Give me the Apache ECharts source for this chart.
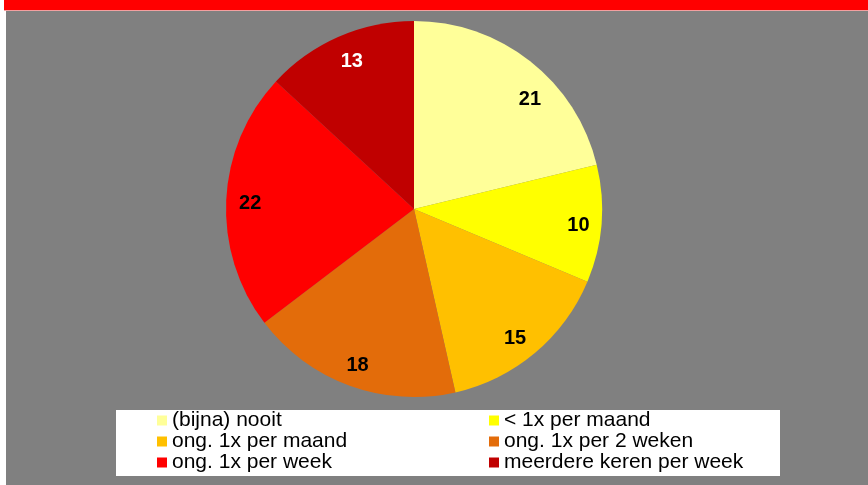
<!DOCTYPE html>
<html>
<head>
<meta charset="utf-8">
<script src="https://cdn.jsdelivr.net/npm/echarts@6/dist/echarts.min.js"></script>
<style>
html, body { margin: 0; padding: 0; background: #ffffff; }
#chart { width: 868px; height: 485px; }
</style>
</head>
<body>
<div id="chart"></div>
<script>
"use strict";

var categories = ['(bijna) nooit', '< 1x per maand', 'ong. 1x per maand', 'ong. 1x per 2 weken', 'ong. 1x per week', 'meerdere keren per week'];
var values = [21, 10, 15, 18, 22, 13];
var colors = ['#ffff99', '#ffff00', '#ffc000', '#e36c0a', '#ff0000', '#c00000'];
var labelColors = ['#000', '#000', '#000', '#000', '#000', '#fff'];
// small nudges so the value labels sit where the original put them
var labelOffsets = [[14, 20], [0, 3], [-5, 3], [0, 1], [1, 2], [4, 4]];

var myChart = echarts.init(document.getElementById('chart'));

var pieData = [];
var labelData = [];
for (var i = 0; i < categories.length; i++) {
	pieData.push({ name: categories[i], value: values[i], itemStyle: { color: colors[i] } });
	labelData.push({
		name: categories[i],
		value: values[i],
		label: { color: labelColors[i], offset: labelOffsets[i] }
	});
}

var font = '"Liberation Sans", Arial, sans-serif';

function makeLegend(left, names) {
	return {
		orient: 'vertical',
		left: left,
		top: 410,
		padding: 0,
		itemGap: 0,
		itemWidth: 10,
		itemHeight: 10,
		icon: 'rect',
		data: names,
		textStyle: { fontFamily: font, fontSize: 21, color: '#000', lineHeight: 21 }
	};
}

var option = {
	backgroundColor: '#ffffff',
	animation: false,
	graphic: [
		{ type: 'rect', z: -10, shape: { x: 4, y: 0, width: 864, height: 10 }, style: { fill: '#ff0000' } },
		{ type: 'rect', z: -10, shape: { x: 4, y: 10, width: 864, height: 1 }, style: { fill: '#f4a0a0' } },
		{ type: 'rect', z: -10, shape: { x: 6, y: 11, width: 862, height: 474 }, style: { fill: '#808080' } },
		{ type: 'rect', z: -5, shape: { x: 116, y: 410, width: 664, height: 66 }, style: { fill: '#ffffff' } }
	],
	legend: [
		makeLegend(157, [categories[0], categories[2], categories[4]]),
		makeLegend(489, [categories[1], categories[3], categories[5]])
	],
	series: [
		{
			type: 'pie',
			center: [414, 209],
			radius: 188,
			startAngle: 90,
			clockwise: true,
			label: { show: false },
			labelLine: { show: false },
			emphasis: { disabled: true },
			data: pieData
		},
		{
			type: 'pie',
			center: [414, 209],
			radius: [136, 188],
			startAngle: 90,
			clockwise: true,
			silent: true,
			legendHoverLink: false,
			itemStyle: { color: 'rgba(0,0,0,0)' },
			label: {
				show: true,
				position: 'inside',
				formatter: '{c}',
				fontFamily: font,
				fontSize: 20,
				fontWeight: 'bold'
			},
			labelLine: { show: false },
			emphasis: { disabled: true },
			data: labelData
		}
	]
};

myChart.setOption(option);
</script>
</body>
</html>
